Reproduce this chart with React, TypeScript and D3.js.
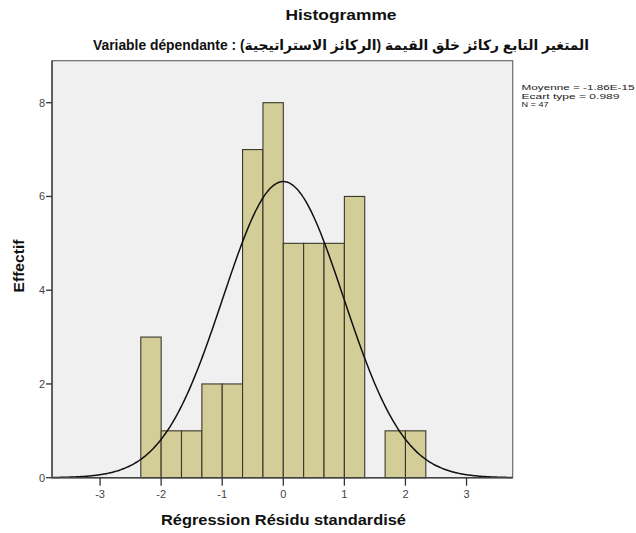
import React from "react";
import * as d3 from "d3";

const binLower = [-2.333, -2.0, -1.667, -1.333, -1.0, -0.667, -0.333, 0.0, 0.333, 0.667, 1.0, 1.333, 1.667, 2.0];
const counts = [3, 1, 1, 2, 2, 7, 8, 5, 5, 5, 6, 0, 1, 1];
const binWidth = 0.3333;
const xTicks = [-3, -2, -1, 0, 1, 2, 3];
const yTicks = [0, 2, 4, 6, 8];
const statMean = -1.86e-15;
const statSd = 0.989;
const statN = 47;
const statLines = ["Moyenne = -1.86E-15", "Ecart type = 0.989", "N = 47"];

const title = "Histogramme";
const subtitle = "Variable dépendante : المتغير التابع ركائز خلق القيمة (الركائز الاستراتيجية)";
const xLabel = "Régression Résidu standardisé";
const yLabel = "Effectif";

export default function App() {
  const W = 636, H = 533;
  const left = 52, right = 512.7, top = 60.7, bottom = 477.7;
  const x = d3.scaleLinear().domain([-3.787, 3.756]).range([left, right]);
  const y = d3.scaleLinear().domain([0, 8]).range([bottom, 102.7]);
  const font = "'Liberation Sans', Arial, 'DejaVu Sans', sans-serif";

  const pdf = (v: number) =>
    (statN * binWidth) / (statSd * Math.sqrt(2 * Math.PI)) *
    Math.exp(-0.5 * ((v - statMean) / statSd) ** 2);
  const xs = d3.range(0, 301).map((i) => -3.787 + (i / 300) * (3.756 + 3.787));
  const line = d3.line<number>().x((d) => x(d)).y((d) => y(pdf(d))).curve(d3.curveBasis);

  return (
    <svg width={W} height={H} style={{ position: "absolute", left: 0, top: 0, background: "#fff" }}>
      <rect x={left} y={top} width={right - left} height={bottom - top} fill="#f0f0f0" stroke="none" />
      {counts.map((c, i) =>
        c > 0 ? (
          <rect
            key={i}
            x={x(binLower[i])}
            y={y(c)}
            width={x(binLower[i] + binWidth) - x(binLower[i])}
            height={y(0) - y(c)}
            fill="#d3ce97"
            stroke="#3a382a"
            strokeWidth={1.1}
          />
        ) : null
      )}
      <path d={line(xs) || ""} fill="none" stroke="#111" strokeWidth={1.5} />
      <rect x={left} y={top} width={right - left} height={bottom - top} fill="none" stroke="#6a6a6a" strokeWidth={1.2} />
      <line x1={left} x2={left} y1={top} y2={bottom} stroke="#444" strokeWidth={1.4} />
      <line x1={left} x2={right} y1={bottom} y2={bottom} stroke="#444" strokeWidth={1.4} />
      {yTicks.map((t) => (
        <g key={"y" + t}>
          <line x1={left - 6} x2={left} y1={y(t)} y2={y(t)} stroke="#333" strokeWidth={1.3} />
          <text x={left - 7} y={y(t) + 4} fontSize={11} fontFamily={font} fill="#444" textAnchor="end">{t}</text>
        </g>
      ))}
      {xTicks.map((t) => (
        <g key={"x" + t}>
          <line x1={x(t)} x2={x(t)} y1={bottom} y2={bottom + 8} stroke="#333" strokeWidth={1.3} />
          <text x={x(t)} y={497.5} fontSize={11} fontFamily={font} fill="#444" textAnchor="middle">{t}</text>
        </g>
      ))}
      <text x={341} y={19.5} fontSize={15} fontWeight="bold" fontFamily={font} textAnchor="middle" textLength={111} lengthAdjust="spacingAndGlyphs" fill="#111">{title}</text>
      <text x={341} y={50} fontSize={14} fontWeight="bold" fontFamily={font} textAnchor="middle" textLength={496} lengthAdjust="spacingAndGlyphs" fill="#111" direction="ltr">{subtitle}</text>
      <text x={283.5} y={525} fontSize={15} fontWeight="bold" fontFamily={font} textAnchor="middle" textLength={245} lengthAdjust="spacingAndGlyphs" fill="#111">{xLabel}</text>
      <text transform={`translate(24,266) rotate(-90)`} fontSize={15} fontWeight="bold" fontFamily={font} textAnchor="middle" textLength={53} lengthAdjust="spacingAndGlyphs" fill="#111">{yLabel}</text>
      {statLines.map((s, i) => (
        <text key={s} x={521.5} y={90 + i * 8.7} fontSize={7.5} fontFamily={font} fill="#222" textLength={[113, 98, 27][i]} lengthAdjust="spacingAndGlyphs">{s}</text>
      ))}
    </svg>
  );
}
